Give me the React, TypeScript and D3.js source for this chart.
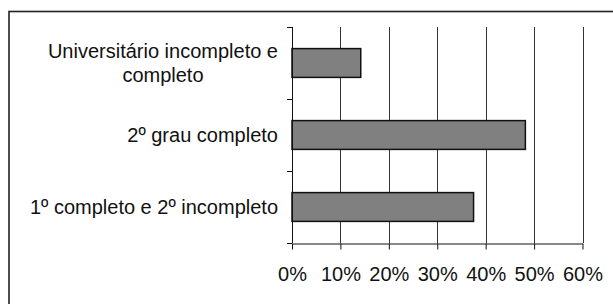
import React, { useRef, useEffect } from 'react';
import * as d3 from 'd3';

const categories = [
    ['Universitário incompleto e', 'completo'],
    ['2º grau completo'],
    ['1º completo e 2º incompleto'],
];
const values = [0.142, 0.482, 0.375];
const xTicks = [0, 0.1, 0.2, 0.3, 0.4, 0.5, 0.6];

const measure = (() => {
    const ctx = document.createElement('canvas').getContext('2d')!;
    return (s: string, font: string) => {
        ctx.font = font;
        return ctx.measureText(s).width;
    };
})();

const App: React.FC = () => {
    const svgRef = useRef<SVGSVGElement | null>(null);
    const width = 613;
    const height = 304;

    useEffect(() => {
        if (!svgRef.current) return;
        const svg = d3.select(svgRef.current);
        svg.selectAll('*').remove();

        const left = 292;
        const right = 582.5;
        const top = 27;
        const bottom = 243;
        const font = "'Liberation Sans', Arial, sans-serif";

        // outer frame (runs off the right and bottom edges)
        svg.append('rect')
            .attr('x', 9)
            .attr('y', 11.5)
            .attr('width', 620)
            .attr('height', 310)
            .attr('fill', 'white')
            .attr('stroke', '#222')
            .attr('stroke-width', 1.6);

        const x = d3.scaleLinear().domain([0, 0.6]).range([left, right]);
        const keys = categories.map((c) => c.join(' '));
        const y = d3
            .scaleBand<string>()
            .domain(keys)
            .range([top, bottom])
            .paddingInner(0.6)
            .paddingOuter(0.3);

        // vertical gridlines
        svg.append('g')
            .selectAll('line')
            .data(xTicks.slice(1))
            .enter()
            .append('line')
            .attr('x1', (d) => Math.round(x(d)) + 0.5)
            .attr('x2', (d) => Math.round(x(d)) + 0.5)
            .attr('y1', top)
            .attr('y2', bottom)
            .attr('stroke', '#333')
            .attr('stroke-width', 1);

        // bars
        svg.append('g')
            .selectAll('rect')
            .data(values)
            .enter()
            .append('rect')
            .attr('x', x(0))
            .attr('y', (d, i) => y(keys[i])!)
            .attr('width', (d) => x(d) - x(0))
            .attr('height', y.bandwidth())
            .attr('fill', '#808080')
            .attr('stroke', '#111')
            .attr('stroke-width', 1.5);

        // x axis
        const xAxis = svg
            .append('g')
            .attr('transform', `translate(0,${bottom + 0.5})`)
            .call(
                d3
                    .axisBottom(x)
                    .tickValues(xTicks)
                    .tickFormat(d3.format('.0%'))
                    .tickSize(6)
                    .tickSizeOuter(0)
                    .tickPadding(17),
            );
        xAxis.select('.domain').attr('stroke', '#111');
        xAxis.selectAll('.tick line').attr('stroke', '#111');
        xAxis.selectAll('.tick text')
            .attr('font-family', font)
            .attr('font-size', 20)
            .attr('fill', '#111');

        // y axis line and category separators
        svg.append('line')
            .attr('x1', left + 0.5)
            .attr('x2', left + 0.5)
            .attr('y1', top)
            .attr('y2', bottom)
            .attr('stroke', '#111');
        const step = y.step();
        svg.append('g')
            .selectAll('line')
            .data(d3.range(keys.length + 1))
            .enter()
            .append('line')
            .attr('x1', left - 5)
            .attr('x2', left)
            .attr('y1', (i) => Math.round(top + i * step) + 0.5)
            .attr('y2', (i) => Math.round(top + i * step) + 0.5)
            .attr('stroke', '#111');

        // category labels: block right-aligned, lines centred with each other
        const labelRight = 278;
        const labels = svg.append('g');
        categories.forEach((lines, i) => {
            const cy = y(keys[i])! + y.bandwidth() / 2;
            const lineH = 24;
            const widths = lines.map((l) => measure(l, `20px ${font}`));
            const w = d3.max(widths)!;
            lines.forEach((line, j) => {
                labels
                    .append('text')
                    .style('font-family', font)
                    .style('font-size', '20px')
                    .style('text-anchor', 'start')
                    .attr('fill', '#111')
                    .attr('x', labelRight - w / 2 - widths[j] / 2)
                    .attr('y', cy + 7 + (j - (lines.length - 1) / 2) * lineH)
                    .text(line);
            });
        });
    }, []);

    return (
        <svg
            ref={svgRef}
            width={width}
            height={height}
            style={{ position: 'absolute', left: 0, top: 0, background: 'white' }}
            viewBox={`0 0 ${width} ${height}`}
        ></svg>
    );
};

export default App;
